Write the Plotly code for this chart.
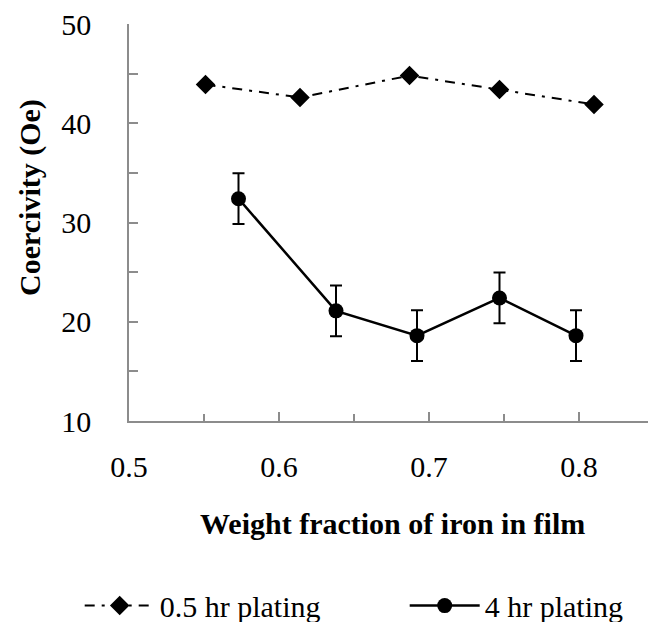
import plotly.graph_objects as go

# Weight fraction of iron in the film
frac_short = [0.551, 0.614, 0.687, 0.747, 0.810]
frac_long = [0.573, 0.638, 0.692, 0.747, 0.798]

# Coercivity (Oe)
hc_short = [43.9, 42.6, 44.8, 43.4, 41.9]
hc_long = [32.4, 21.1, 18.6, 22.4, 18.6]
hc_long_err = [2.55, 2.55, 2.55, 2.55, 2.55]

x_ticks = [0.5, 0.6, 0.7, 0.8]
y_ticks = [10, 20, 30, 40, 50]

FONT = "Liberation Serif"
AXIS_GREY = "#8c8c8c"

fig = go.Figure()

fig.add_trace(go.Scatter(
    x=frac_short, y=hc_short,
    mode="lines+markers",
    name="0.5 hr plating",
    line=dict(color="black", width=2, dash="10px,7px,3px,7px"),
    marker=dict(symbol="diamond", size=15, color="black"),
))

fig.add_trace(go.Scatter(
    x=frac_long, y=hc_long,
    mode="lines+markers",
    name="4 hr plating",
    line=dict(color="black", width=2.5),
    marker=dict(symbol="circle", size=15, color="black"),
    error_y=dict(type="data", array=hc_long_err, visible=True,
                 color="black", thickness=2, width=6),
))

fig.update_layout(
    width=648, height=622,
    margin=dict(l=129, r=0, t=24, b=201, autoexpand=False),
    paper_bgcolor="white", plot_bgcolor="white",
    font=dict(family=FONT, size=30, color="black"),
    showlegend=True,
    legend=dict(
        orientation="h",
        x=-0.095, xanchor="left",
        y=-0.465, yanchor="middle",
        font=dict(family=FONT, size=30, color="black"),
        itemwidth=70,
        entrywidth=240,
        traceorder="normal",
        bgcolor="rgba(0,0,0,0)",
    ),
    xaxis=dict(
        range=[0.5, 0.846],
        tickvals=x_ticks,
        ticktext=[f"{v:.1f}" for v in x_ticks],
        ticks="inside", ticklen=9, tickwidth=1.5, tickcolor=AXIS_GREY,
        minor=dict(dtick=0.05, tick0=0.5, ticks="inside", ticklen=7,
                   tickwidth=1.5, tickcolor=AXIS_GREY, showgrid=False),
        showline=True, linecolor=AXIS_GREY, linewidth=1.5,
        showgrid=False, zeroline=False,
        ticklabelstandoff=18,
        tickfont=dict(family=FONT, size=30),
    ),
    yaxis=dict(
        range=[10, 50],
        tickvals=y_ticks,
        ticks="inside", ticklen=9, tickwidth=1.5, tickcolor=AXIS_GREY,
        minor=dict(dtick=5, tick0=10, ticks="inside", ticklen=9,
                   tickwidth=1.5, tickcolor=AXIS_GREY, showgrid=False),
        showline=True, linecolor=AXIS_GREY, linewidth=1.5,
        showgrid=False, zeroline=False,
        ticklabelstandoff=30,
        tickfont=dict(family=FONT, size=30),
    ),
    annotations=[
        dict(text="<b>Weight fraction of iron in film</b>",
             xref="paper", yref="paper",
             x=(392 - 129) / 519, y=(421 - 523) / 397,
             xanchor="center", yanchor="middle", showarrow=False,
             font=dict(family=FONT, size=30, color="black")),
        dict(text="<b>Coercivity (Oe)</b>",
             xref="paper", yref="paper",
             x=(30 - 129) / 519, y=(421 - 198) / 397,
             xanchor="center", yanchor="middle", textangle=-90,
             showarrow=False,
             font=dict(family=FONT, size=30, color="black")),
    ],
)

fig.write_html("out.html")
